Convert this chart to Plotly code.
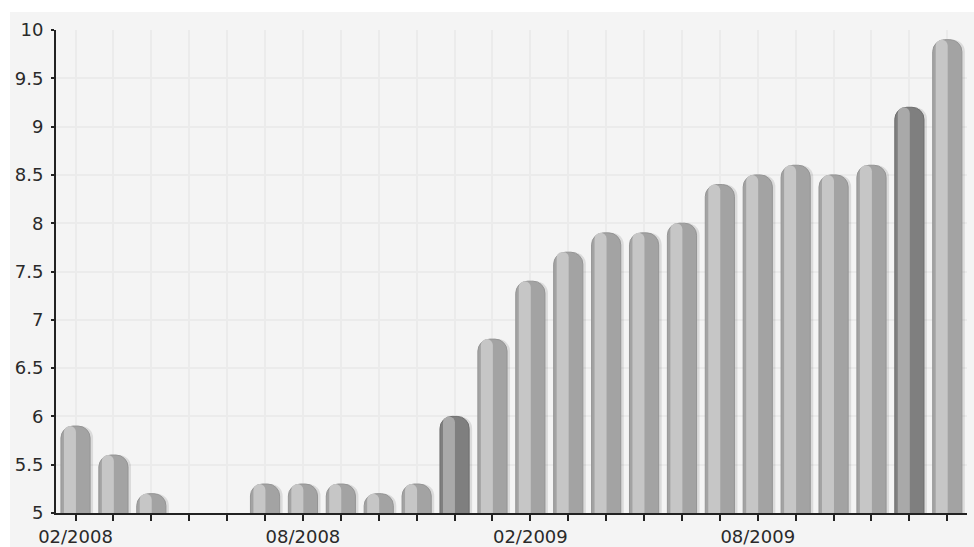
import plotly.graph_objects as go

# Monthly series, 02/2008 - 01/2010 (no reading for 05/2008 and 06/2008)
months = [
    "02/2008", "03/2008", "04/2008", "05/2008", "06/2008", "07/2008",
    "08/2008", "09/2008", "10/2008", "11/2008", "12/2008", "01/2009",
    "02/2009", "03/2009", "04/2009", "05/2009", "06/2009", "07/2009",
    "08/2009", "09/2009", "10/2009", "11/2009", "12/2009", "01/2010",
]
values = [
    5.9, 5.6, 5.2, None, None, 5.3,
    5.3, 5.3, 5.2, 5.3, 6.0, 6.8,
    7.4, 7.7, 7.9, 7.9, 8.0, 8.4,
    8.5, 8.6, 8.5, 8.6, 9.2, 9.9,
]
accent_months = ["12/2008", "12/2009"]
labelled_months = ["02/2008", "08/2008", "02/2009", "08/2009"]

x = list(range(len(months)))
tick_text = [m if m in labelled_months else "" for m in months]

is_accent = [m in accent_months for m in months]
body_colors = ["#7f7f7f" if a else "#a3a3a3" for a in is_accent]
edge_colors = ["#6e6e6e" if a else "#959595" for a in is_accent]
shine_colors = ["#a9a9a9" if a else "#c6c6c6" for a in is_accent]

W = 911.0          # plot width in px
SPAN = 24.035      # x range in months
px = SPAN / W      # one pixel in x data units

BAR_W = 0.77
fig = go.Figure()

# soft shadow to the right of each bar
fig.add_trace(go.Bar(
    x=x, y=values, width=BAR_W, offset=-BAR_W / 2 + 3 * px,
    marker=dict(color="rgba(0,0,0,0.10)", line=dict(width=0), cornerradius=12),
    hoverinfo="skip", showlegend=False,
))
# bar body
fig.add_trace(go.Bar(
    x=x, y=values, width=BAR_W, offset=-BAR_W / 2,
    marker=dict(color=body_colors, line=dict(color=edge_colors, width=1), cornerradius=12),
    customdata=months, hovertemplate="%{customdata}: %{y}<extra></extra>",
    showlegend=False,
))
# cylindrical highlight on the left part of the bar
fig.add_trace(go.Bar(
    x=x, y=values, width=12 * px, offset=-BAR_W / 2 + 3 * px,
    marker=dict(color=shine_colors, line=dict(width=0), cornerradius=6),
    hoverinfo="skip", showlegend=False,
))

font = dict(family="DejaVu Sans, Verdana, sans-serif", size=18, color="#2a2a2a")

fig.update_layout(
    width=974, height=547,
    margin=dict(l=56, r=7, t=30, b=34),
    paper_bgcolor="white",
    plot_bgcolor="rgba(0,0,0,0)",
    barmode="overlay",
    font=font,
    showlegend=False,
    shapes=[dict(
        type="rect", xref="paper", yref="paper", layer="below",
        x0=(10 - 56) / W, x1=(974 - 56) / W + 0.01,
        y0=-34 / 483.0 - 0.01, y1=(513 - 12) / 483.0,
        fillcolor="#f4f4f4", line=dict(width=0),
    )],
    xaxis=dict(
        range=[-0.515, -0.515 + SPAN], automargin=False,
        tickmode="array", tickvals=x, ticktext=tick_text,
        ticks="outside", ticklen=6, tickwidth=2, tickcolor="#222",
        ticklabelstandoff=0,
        showgrid=True, gridcolor="#ebebeb", gridwidth=1.5,
        showline=True, linecolor="#222", linewidth=2,
        zeroline=False, tickfont=font,
    ),
    yaxis=dict(
        range=[5, 10], dtick=0.5, tick0=5, automargin=False,
        ticks="outside", ticklen=3, tickwidth=2, tickcolor="#222",
        ticklabelstandoff=4,
        showgrid=True, gridcolor="#ebebeb", gridwidth=1.5,
        showline=True, linecolor="#222", linewidth=2,
        zeroline=False, tickfont=font,
    ),
)

fig.write_html("out.html")
